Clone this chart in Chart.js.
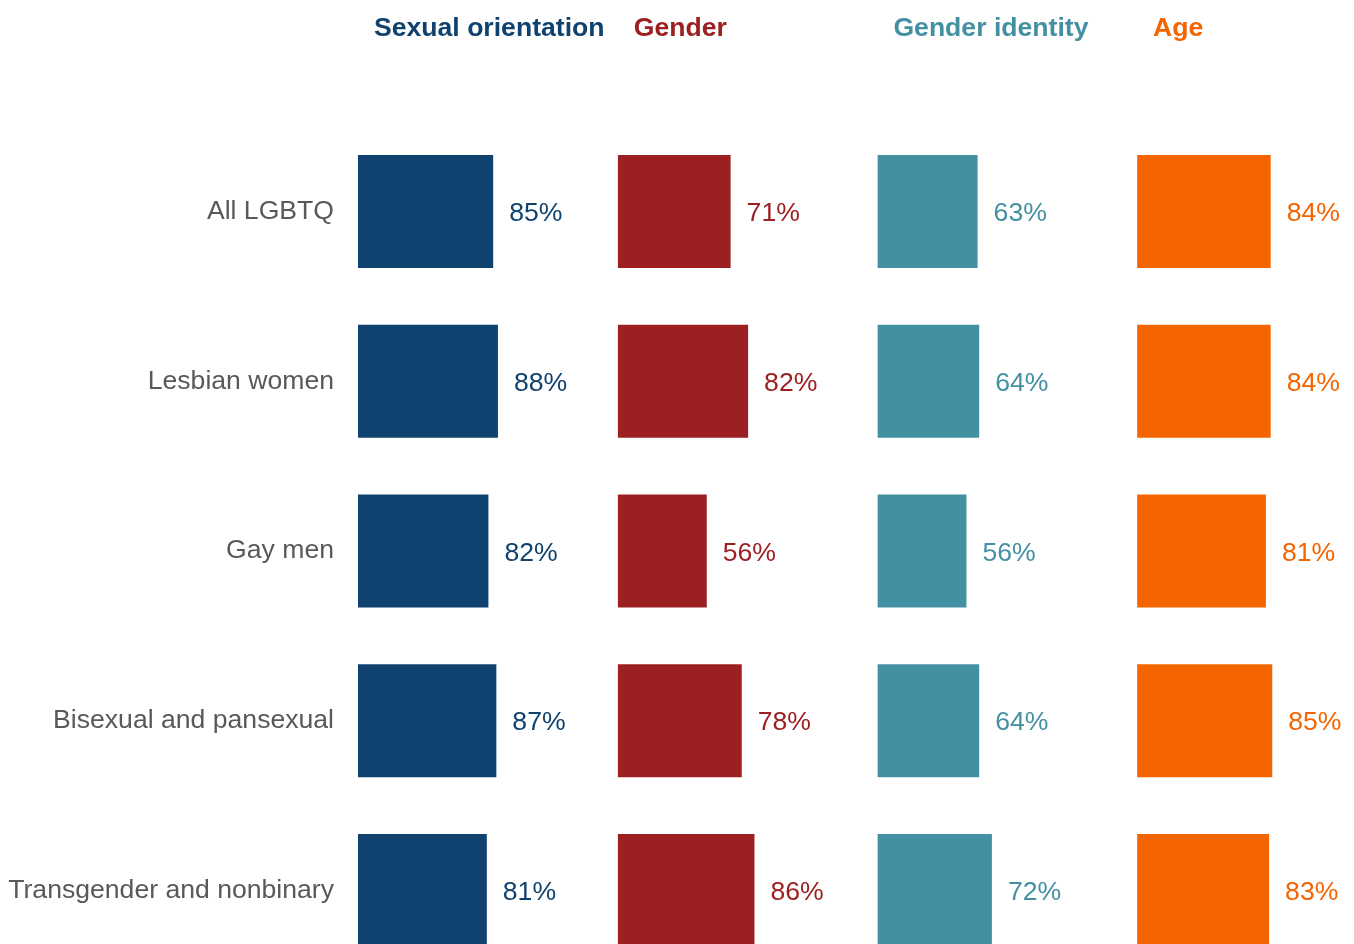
<!DOCTYPE html>
<html>
<head>
<meta charset="utf-8">
<script src="https://cdn.jsdelivr.net/npm/chart.js@4.4.1/dist/chart.umd.min.js"></script>
<style>
  html, body { margin: 0; padding: 0; background: #ffffff; overflow: hidden; }
  canvas { display: block; }
</style>
</head>
<body>
<canvas id="chart" width="1400" height="1100"></canvas>
<script>
// Respondent groups (rows)
const groups = ['All LGBTQ', 'Lesbian women', 'Gay men', 'Bisexual and pansexual', 'Transgender and nonbinary'];

// Panel headings
const panelTitles = ['Sexual orientation', 'Gender', 'Gender identity', 'Age'];

// Share of respondents (%) per panel
const sexualOrientation = [85, 88, 82, 87, 81];
const gender = [71, 82, 56, 78, 86];
const genderIdentity = [63, 64, 56, 64, 72];
const age = [84, 84, 81, 85, 83];

const panelValues = [sexualOrientation, gender, genderIdentity, age];
const panelColors = ['#10426F', '#9C2021', '#4490A3', '#F46400'];

const FONT_FAMILY = '"Liberation Sans", Arial, Helvetica, sans-serif';
const FONT_SIZE = 26.6;
const PANEL_MAX = 163.3; // each panel's x range, leaves room for the value label

const datasets = panelValues.map((vals, i) => ({
  label: panelTitles[i],
  data: vals,
  xAxisID: 'x' + i,
  backgroundColor: panelColors[i],
  borderWidth: 0,
  grouped: false,
  categoryPercentage: 1,
  barPercentage: 0.666
}));

const scales = {
  y: {
    type: 'category',
    position: 'left',
    grid: { display: false, drawTicks: false },
    border: { display: false },
    ticks: {
      color: '#595959',
      padding: 24,
      autoSkip: false,
      font: { family: FONT_FAMILY, size: FONT_SIZE }
    },
    afterFit(scale) { scale.width = 358; }
  }
};
panelTitles.forEach((t, i) => {
  scales['x' + i] = {
    type: 'linear',
    position: 'bottom',
    stack: 'panels',
    stackWeight: 1,
    min: 0,
    max: PANEL_MAX,
    display: false
  };
});

// Value labels to the right of each bar
const valueLabels = {
  id: 'valueLabels',
  afterDatasetsDraw(chart) {
    const ctx = chart.ctx;
    ctx.save();
    ctx.font = FONT_SIZE + 'px ' + FONT_FAMILY;
    ctx.textAlign = 'left';
    ctx.textBaseline = 'alphabetic';
    chart.data.datasets.forEach((ds, i) => {
      const meta = chart.getDatasetMeta(i);
      ctx.fillStyle = ds.backgroundColor;
      meta.data.forEach((bar, j) => {
        ctx.fillText(ds.data[j] + '%', bar.x + 16, bar.y + FONT_SIZE * 0.36);
      });
    });
    ctx.restore();
  }
};

// Panel headings above each column
const panelHeadings = {
  id: 'panelHeadings',
  afterDraw(chart) {
    const ctx = chart.ctx;
    ctx.save();
    ctx.font = 'bold ' + FONT_SIZE + 'px ' + FONT_FAMILY;
    ctx.textAlign = 'left';
    ctx.textBaseline = 'alphabetic';
    panelTitles.forEach((t, i) => {
      const sc = chart.scales['x' + i];
      ctx.fillStyle = panelColors[i];
      ctx.fillText(t, sc.left + 16, 36);
    });
    ctx.restore();
  }
};

new Chart(document.getElementById('chart'), {
  type: 'bar',
  data: { labels: groups, datasets },
  options: {
    indexAxis: 'y',
    responsive: false,
    animation: false,
    layout: { padding: { top: 126.6, bottom: 124.6, left: 0, right: 3.2 } },
    scales,
    plugins: {
      legend: { display: false },
      tooltip: { enabled: false }
    }
  },
  plugins: [valueLabels, panelHeadings]
});
</script>
</body>
</html>
